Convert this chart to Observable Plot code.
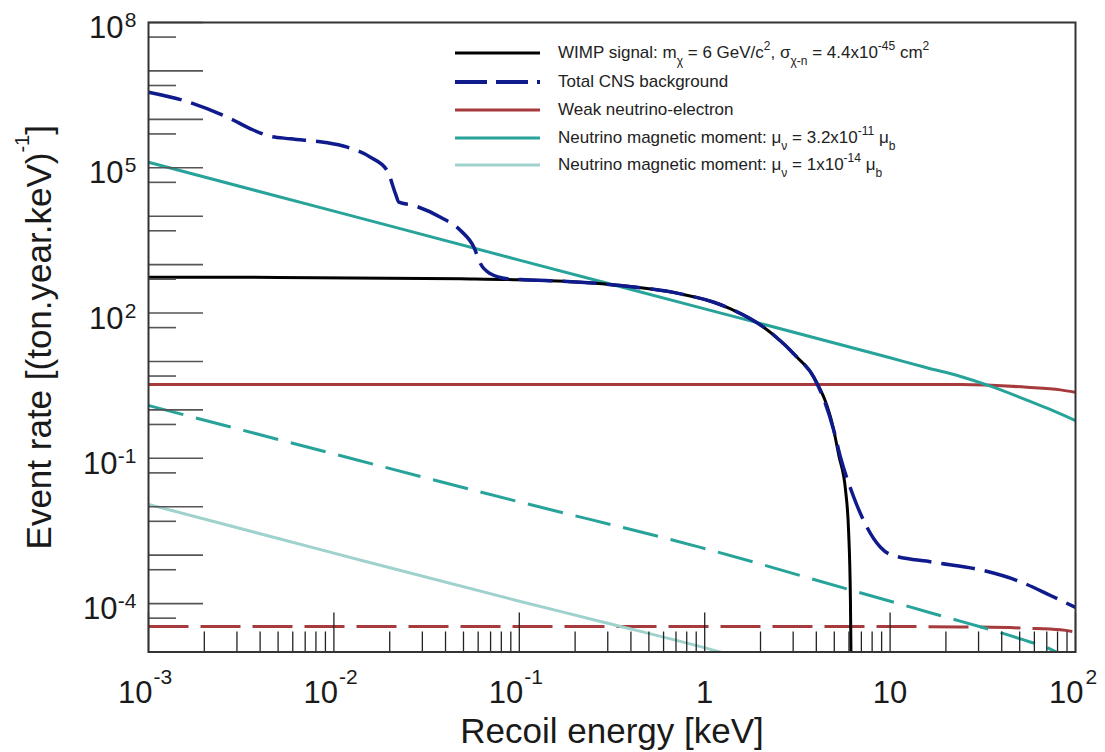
<!DOCTYPE html>
<html><head><meta charset="utf-8">
<script src="https://cdn.jsdelivr.net/npm/d3@7"></script>
<script src="https://cdn.jsdelivr.net/npm/@observablehq/plot@0.6"></script>
<style>
html,body{margin:0;padding:0;background:#fff;overflow:hidden}
#wrap{position:relative;width:1105px;height:752px;font-family:"Liberation Sans",Arial,Helvetica,sans-serif}
#wrap svg{display:block}
.row{position:absolute;left:455px;height:28px;white-space:nowrap;font-size:17px;color:#222}
.row svg{position:absolute;left:0;top:0}
.row .t{position:absolute;left:103px;top:0;line-height:28px}
.row sub{font-size:12px;vertical-align:baseline;position:relative;top:7px}
.row sup{font-size:12px;vertical-align:baseline;position:relative;top:-8px}
</style></head><body><div id="wrap"></div>
<script>
// ---------- tick labels ----------
const xTickValues = [1e-3, 1e-2, 1e-1, 1, 10, 100];
const xTickBase   = ["10", "10", "10", "1", "10", "10"];
const xTickExp    = ["-3", "-2", "-1", "", "", "2"];
const yTickValues = [1e8, 1e5, 1e2, 1e-1, 1e-4];
const yTickBase   = ["10", "10", "10", "10", "10"];
const yTickExp    = ["8", "5", "2", "-1", "-4"];
const xTitle = "Recoil energy [keV]";
const yTitleMain = "Event rate [(ton.year.keV)";
const yTitleExp = "-1";
const yTitleEnd = "]";

// ---------- series (recoil energy keV, rate per ton.year.keV) ----------
// WIMP signal
const wimpE = [0.001, 0.005, 0.0482, 0.1, 0.214, 0.352, 0.740, 1.12, 1.38, 2.08, 3.15, 3.88, 4.97, 5.29, 5.75, 5.98, 6.11, 6.15];
const wimpR = [550, 545, 509, 485, 433, 370, 249, 167, 122, 51, 12.2, 4.7, 0.375, 0.114, 0.022, 0.00279, 1.16e-4, 1.0e-5];
// Total CNS background
const bgE = [0.001, 0.00155, 0.00277, 0.00355, 0.00437, 0.00583, 0.00883, 0.0118, 0.01574, 0.01936, 0.0215, 0.0224, 0.027, 0.0376, 0.0482, 0.0569, 0.0618, 0.070, 0.0861, 0.1014, 0.214, 0.352, 0.740, 1.12, 1.38, 2.08, 3.15, 3.88, 4.97, 5.40, 6.37, 8.87, 10.05, 17.1, 31.9, 48.5, 73.3, 100];
const bgR = [3.64e6, 2.45e6, 1.03e6, 6.38e5, 4.64e5, 3.96e5, 3.37e5, 2.66e5, 1.65e5, 8.78e4, 2.9e4, 1.95e4, 1.66e4, 9.5e3, 5.06e3, 2.29e3, 1.04e3, 646, 509, 492, 433, 370, 249, 167, 122, 51, 12.2, 4.7, 0.375, 0.105, 0.0157, 1.46e-3, 1.03e-3, 7.14e-4, 4.81e-4, 2.99e-4, 1.47e-4, 8.3e-5];
// Weak neutrino-electron (solid) and its dashed companion
const weakE = [0.001, 0.01, 0.1, 1, 10, 24, 54.8, 83, 100];
const weakR = [3.34, 3.34, 3.34, 3.34, 3.34, 3.34, 2.94, 2.59, 2.31];
const weakDashR = [3.36e-5, 3.36e-5, 3.36e-5, 3.36e-5, 3.36e-5, 3.3e-5, 3.1e-5, 2.87e-5, 2.6e-5];
// Neutrino magnetic moment 3.2e-11 (solid)
const nmmE = [0.001, 0.01, 0.1, 1, 10, 15.8, 24, 34.8, 50.1, 70.8, 100];
const nmmR = [1.30e5, 1.27e4, 1.24e3, 122, 11.9, 7.4, 4.9, 3.09, 1.82, 1.07, 0.60];
// dashed teal companion
const nmmDashE = [0.001, 0.01, 0.1, 0.948, 5.87, 17.2, 50.5, 76, 100];
const nmmDashR = [1.23, 0.123, 0.0126, 1.45e-3, 2.0e-4, 6.17e-5, 1.86e-5, 1.07e-5, 5.6e-6];
// Neutrino magnetic moment 1e-14
const nmmLowE = [0.001, 0.01, 0.1, 0.274, 1.22, 1.5];
const nmmLowR = [0.0112, 1.10e-3, 1.12e-4, 4.27e-5, 9.9e-6, 7.9e-6];

const legendLabels = [
  'WIMP signal: m<sub>χ</sub> = 6 GeV/c<sup>2</sup>, σ<sub>χ-n</sub> = 4.4x10<sup>-45</sup> cm<sup>2</sup>',
  'Total CNS background',
  'Weak neutrino-electron',
  'Neutrino magnetic moment: μ<sub>ν</sub> = 3.2x10<sup>-11</sup> μ<sub>b</sub>',
  'Neutrino magnetic moment: μ<sub>ν</sub> = 1x10<sup>-14</sup> μ<sub>b</sub>'
];

// ---------- styles ----------
const BLACK = "#000000", BLUE = "#0f1b8c", RED = "#a63a3c", TEAL = "#27a39a", LTEAL = "#9fd1cd";
const legendColors = [BLACK, BLUE, RED, TEAL, LTEAL];
const legendDash = [null, "32,9", null, null, null];
const legendWidth = [3, 4, 3, 3, 3];

// tick positions
const xMajor = xTickValues;
const xMinor = [];
for (let d = -3; d <= 1; d++) for (let m = 2; m <= 9; m++) xMinor.push(+(m * Math.pow(10, d)).toPrecision(3));
const yMajor = [], yMinor = [];
for (let d = -5; d <= 8; d++) yMajor.push(Math.pow(10, d));
for (let d = -5; d <= 7; d++) yMinor.push(5 * Math.pow(10, d));

const tbl = (E, R) => E.map((e, i) => ({E: e, R: R[i]}));
const L = {x: "E", y: "R", curve: "monotone-x", clip: true, strokeLinecap: "butt"};

const xLab = xTickValues.map((v, i) => ({v, base: xTickBase[i], exp: xTickExp[i]}));
const yLab = yTickValues.map((v, i) => ({v, base: yTickBase[i], exp: yTickExp[i]}));
const xNeg = xLab.filter(d => d.exp.startsWith("-"));
const xPlain = xLab.filter(d => d.exp === "");
const xPos = xLab.filter(d => d.exp !== "" && !d.exp.startsWith("-"));
const yNeg = yLab.filter(d => d.exp.startsWith("-"));
const yPos = yLab.filter(d => !d.exp.startsWith("-"));

const T = {fill: "#1a1a1a", lineAnchor: "bottom"};

const chart = Plot.plot({
  width: 1105, height: 752,
  marginLeft: 148, marginRight: 30, marginTop: 22, marginBottom: 100.5,
  style: {fontFamily: '"Liberation Sans", Arial, Helvetica, sans-serif', background: "white", color: "#1a1a1a"},
  x: {type: "log", domain: [1e-3, 1e2]},
  y: {type: "log", domain: [1e-5, 1e8]},
  marks: [
    Plot.line(tbl(weakE, weakDashR), {...L, stroke: RED, strokeWidth: 3, strokeDasharray: "40,12"}),
    Plot.line(tbl(nmmLowE, nmmLowR), {...L, stroke: LTEAL, strokeWidth: 3}),
    Plot.line(tbl(nmmDashE, nmmDashR), {...L, stroke: TEAL, strokeWidth: 3, strokeDasharray: "36,13"}),
    Plot.line(tbl(weakE, weakR), {...L, stroke: RED, strokeWidth: 3}),
    Plot.line(tbl(nmmE, nmmR), {...L, stroke: TEAL, strokeWidth: 3}),
    Plot.line(tbl(wimpE, wimpR), {...L, stroke: BLACK, strokeWidth: 3}),
    Plot.line(tbl(bgE, bgR), {...L, stroke: BLUE, strokeWidth: 3.5, strokeDasharray: "34,10"}),
    Plot.axisX({ticks: xMajor, tickSize: -39, fill: "none", stroke: "#222", strokeWidth: 1.3}),
    Plot.axisX({ticks: xMinor, tickSize: -20, fill: "none", stroke: "#222", strokeWidth: 1.3}),
    Plot.axisY({ticks: yMajor, tickSize: -55, fill: "none", stroke: "#555", strokeWidth: 1.6}),
    Plot.axisY({ticks: yMinor, tickSize: -28, fill: "none", stroke: "#555", strokeWidth: 1.6}),
    Plot.frame({stroke: "#333", strokeWidth: 2}),
    // x tick labels
    Plot.text(xNeg, {...T, x: "v", text: "base", frameAnchor: "bottom", textAnchor: "end", dx: 4, dy: 50.5, fontSize: 31}),
    Plot.text(xNeg, {...T, x: "v", text: "exp", frameAnchor: "bottom", textAnchor: "start", dx: 5, dy: 31.5, fontSize: 21}),
    Plot.text(xPlain, {...T, x: "v", text: "base", frameAnchor: "bottom", textAnchor: "middle", dy: 50.5, fontSize: 31}),
    Plot.text(xPos, {...T, x: "v", text: "base", frameAnchor: "bottom", textAnchor: "end", dx: 8, dy: 50.5, fontSize: 31}),
    Plot.text(xPos, {...T, x: "v", text: "exp", frameAnchor: "bottom", textAnchor: "start", dx: 10, dy: 31.5, fontSize: 21}),
    // y tick labels
    Plot.text(yPos, {...T, y: "v", text: "base", frameAnchor: "left", textAnchor: "end", dx: -25, dy: 15.5, fontSize: 31}),
    Plot.text(yPos, {...T, y: "v", text: "exp", frameAnchor: "left", textAnchor: "end", dx: -12, dy: 4.5, fontSize: 21}),
    Plot.text(yNeg, {...T, y: "v", text: "base", frameAnchor: "left", textAnchor: "end", dx: -31, dy: 15.5, fontSize: 31}),
    Plot.text(yNeg, {...T, y: "v", text: "exp", frameAnchor: "left", textAnchor: "end", dx: -12, dy: 4.5, fontSize: 21}),
    // axis titles
    Plot.text([xTitle], {...T, text: d => d, frameAnchor: "bottom", textAnchor: "middle", dy: 91, fontSize: 35}),
    Plot.text([yTitleMain], {...T, text: d => d, frameAnchor: "left", textAnchor: "middle", dx: -98, rotate: -90, fontSize: 35})
  ]
});

const wrap = document.getElementById("wrap");
wrap.appendChild(chart);

// superscript in y title
const yt = d3.select(chart).selectAll("text").filter(function () { return this.textContent === yTitleMain; });
if (!yt.empty()) {
  yt.text(null);
  yt.append("tspan").text(yTitleMain);
  yt.append("tspan").attr("dy", -22).attr("font-size", 20).text(yTitleExp);
  yt.append("tspan").attr("dy", 22).text(yTitleEnd);
}

// legend (inside the plot, top right)
const rowCenters = [53, 81.5, 109.5, 137.5, 165];
legendLabels.forEach((lab, i) => {
  const row = document.createElement("div");
  row.className = "row";
  row.style.top = (rowCenters[i] - 14) + "px";
  row.innerHTML =
    `<svg width="90" height="28"><line x1="0" x2="85" y1="14" y2="14" stroke="${legendColors[i]}" stroke-width="${legendWidth[i]}" ${legendDash[i] ? `stroke-dasharray="${legendDash[i]}"` : ""}/></svg>` +
    `<span class="t">${lab}</span>`;
  wrap.appendChild(row);
});
</script></body></html>
